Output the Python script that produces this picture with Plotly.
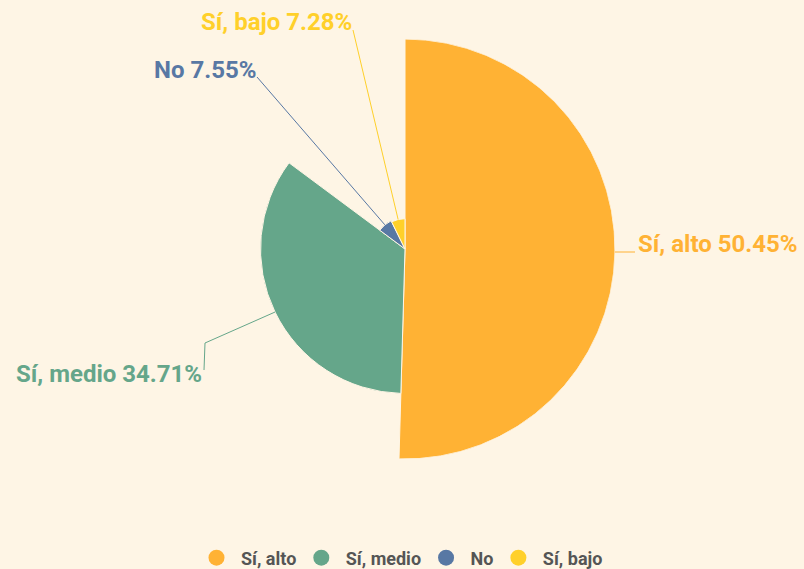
import math
import plotly.graph_objects as go

categories = ["Sí, alto", "Sí, medio", "No", "Sí, bajo"]
values = [50.45, 34.71, 7.55, 7.28]
colors = ["#FFB234", "#65A68A", "#5878A4", "#FFD02A"]
labels = ["Sí, alto 50.45%", "Sí, medio 34.71%", "No 7.55%", "Sí, bajo 7.28%"]

W, H = 804, 569
BG = "#FEF5E5"
CX, CY, R = 405, 249, 210  # pie centre and max radius (px)

total = sum(values)
vmax = max(values)
widths = [v / total * 360 for v in values]
starts = []
acc = 0
for w in widths:
    starts.append(acc)
    acc += w
mids = [s + w / 2 for s, w in zip(starts, widths)]

fig = go.Figure()
for c, v, m, w, col in zip(categories, values, mids, widths, colors):
    fig.add_trace(go.Barpolar(
        r=[v], theta=[m], width=[w], name=c,
        marker=dict(color=col, line=dict(color=BG, width=1)),
        showlegend=False, hoverinfo="name+r",
    ))
# legend entries with circle markers
for c, col in zip(categories, colors):
    fig.add_trace(go.Scatter(x=[None], y=[None], mode="markers", name="\u00a0" + c,
                             marker=dict(color=col, size=22, symbol="circle")))

def px(x):
    return x / W

def py(y):
    return 1 - y / H

# label layout: (elbow points after slice edge, label anchor, xanchor)
layout_pts = [
    ([(635, 252)], (636, 244), "left"),
    ([(205, 343), (204, 370)], (204, 374), "right"),
    ([(257, 77)], (258, 70), "right"),
    ([(353, 30)], (354, 22), "right"),
]

shapes = []
annotations = []
for i, (pts, anchor, xa) in enumerate(layout_pts):
    a = math.radians(mids[i])
    rp = R * values[i] / vmax
    sx, sy = CX + rp * math.sin(a), CY - rp * math.cos(a)
    path = [(sx, sy)] + pts
    for (x0, y0), (x1, y1) in zip(path[:-1], path[1:]):
        shapes.append(dict(type="line", xref="paper", yref="paper",
                           x0=px(x0), y0=py(y0), x1=px(x1), y1=py(y1),
                           line=dict(color=colors[i], width=1)))
    annotations.append(dict(text=labels[i], x=px(anchor[0]), y=py(anchor[1]),
                            xref="paper", yref="paper", xanchor=xa, yanchor="middle",
                            showarrow=False,
                            font=dict(family="Roboto", size=24, color=colors[i], weight="bold")))

fig.update_layout(
    width=W, height=H,
    margin=dict(l=0, r=0, t=0, b=0, autoexpand=False),
    paper_bgcolor=BG, plot_bgcolor=BG,
    polar=dict(
        domain=dict(x=[px(CX - R), px(CX + R)], y=[py(CY + R), py(CY - R)]),
        bgcolor="rgba(0,0,0,0)",
        radialaxis=dict(visible=False, range=[0, vmax]),
        angularaxis=dict(visible=False, rotation=90, direction="clockwise"),
        bargap=0,
    ),
    xaxis=dict(visible=False), yaxis=dict(visible=False),
    legend=dict(orientation="h", x=0.5, xanchor="center", y=py(558), yanchor="middle",
                yref="container", itemsizing="trace",
                font=dict(family="Roboto", size=18, color="#555555", weight="bold"),
                bgcolor="rgba(0,0,0,0)"),
    shapes=shapes, annotations=annotations,
)

fig.write_html("out.html", config={"displayModeBar": False},
               post_script="document.body.style.margin='0';document.body.style.background='" + BG + "';")
